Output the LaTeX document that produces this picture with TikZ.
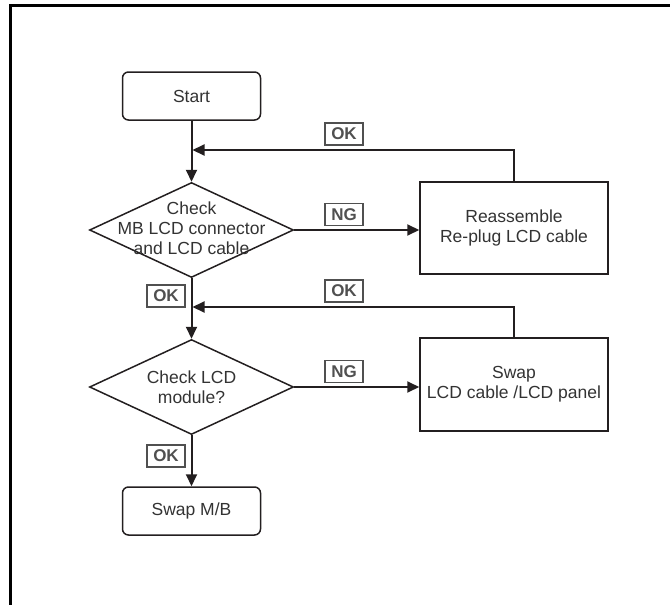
\documentclass[tikz,border=0pt]{standalone}
\usepackage{fontspec}
\setmainfont{Liberation Sans}
\usetikzlibrary{shapes.geometric,arrows.meta}
\definecolor{ink}{HTML}{231F20}
\definecolor{txt}{HTML}{333333}
\definecolor{lab}{HTML}{505050}
\tikzset{
  rbox/.style={draw=ink, line width=1.5pt, rounded corners=6pt, minimum width=138pt, minimum height=48pt, inner sep=0pt, text=txt, font=\fontsize{17.5}{20}\selectfont},
  sbox/.style={draw=ink, line width=1.5pt, minimum width=188pt, minimum height=92pt, inner sep=0pt, align=center, text=txt, font=\fontsize{17.5}{20}\selectfont},
  dbox/.style={diamond, draw=ink, line width=1.5pt, minimum width=204pt, minimum height=95pt, inner sep=0pt},
  dtext/.style={align=center, text=txt, inner sep=0pt, font=\fontsize{17.5}{20}\selectfont},
  tag/.style={draw=lab, line width=1.5pt, minimum width=38pt, minimum height=22pt, inner sep=0pt, text=lab, font=\fontsize{17}{20}\selectfont\bfseries},
  flow/.style={draw=ink, line width=2pt, -{Triangle[length=12pt,width=11pt]}},
}
\begin{document}
\begin{tikzpicture}[x=1pt,y=-1pt]
\useasboundingbox (0,0) rectangle (670,605);
\draw[line width=3pt, black] (10.5,605) -- (10.5,5.5) -- (670,5.5);

\node[rbox] (start) at (191.5,96) {Start};
\node[dbox] (d1) at (191.5,230) {};
\node[dtext] (d1t) at (191.5,228) {Check\\MB LCD connector\\and LCD cable};
\node[sbox] (reas) at (514,228) {Reassemble\\Re-plug LCD cable};
\node[dbox] (d2) at (191.5,387) {};
\node[dtext] (d2t) at (191.5,387) {Check LCD\\module?};
\node[sbox, minimum height=93pt] (swap) at (514,384.5) {Swap\\LCD cable /LCD panel};
\node[rbox] (mb) at (191.5,511) {Swap M/B};

\coordinate (j1) at (192.5,150);
\coordinate (j2) at (192.5,307);

\draw[flow] (start.south) -- (d1.north);
\draw[flow] (reas.north) |- (j1);
\draw[flow] (d1.east) -- (reas.west |- d1.east);
\draw[flow] (d1.south) -- (d2.north);
\draw[flow] (swap.north) |- (j2);
\draw[flow] (d2.east) -- (swap.west |- d2.east);
\draw[flow] (d2.south) -- (mb.north);

\node[tag] (ok1) at (344,134) {OK};
\node[tag] (ng1) at (344,214.5) {NG};
\node[tag] (okl) at (166,296) {OK};
\node[tag] (ok2) at (344,291) {OK};
\node[tag] (ng2) at (344,371.5) {NG};
\node[tag] (ok3) at (166,456) {OK};
\end{tikzpicture}
\end{document}
